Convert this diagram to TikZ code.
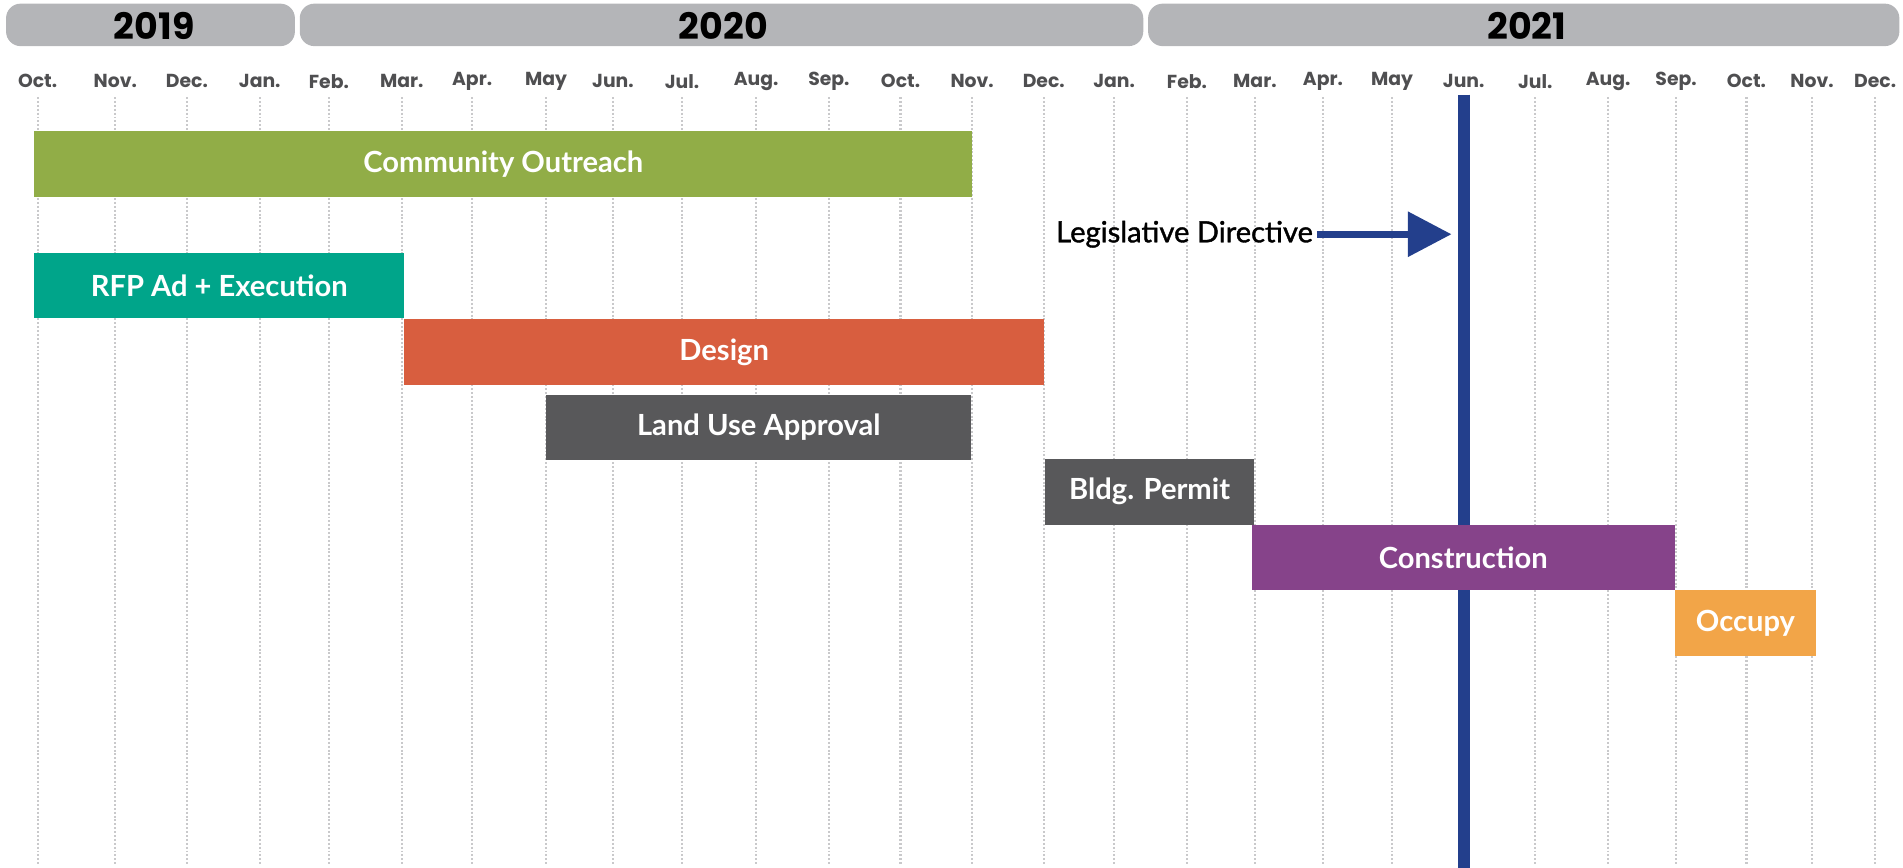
\documentclass[tikz,border=0pt]{standalone}
\usepackage{fontspec}
\setmainfont{Lato}
\newfontfamily\popfont{Poppins}
\newfontfamily\latomed[FakeBold=1.3]{Lato}
\usetikzlibrary{arrows.meta}
\definecolor{pillgray}{HTML}{B4B5B8}
\definecolor{monthgray}{HTML}{4F4F51}
\definecolor{dotgray}{HTML}{C9C9CB}
\definecolor{navy}{HTML}{233F8C}
\definecolor{cgreen}{HTML}{91AD47}
\definecolor{cteal}{HTML}{00A58A}
\definecolor{cred}{HTML}{D85E3F}
\definecolor{cdark}{HTML}{58585A}
\definecolor{cpurple}{HTML}{86438A}
\definecolor{corange}{HTML}{F2A548}
\tikzset{
  pill/.style={fill=pillgray, rounded corners=12pt, draw=none},
  yeartext/.style={font=\popfont\bfseries\fontsize{30}{30}\selectfont, text=black, inner sep=0pt},
  monthtext/.style={font=\popfont\bfseries\fontsize{15.5}{15.5}\selectfont, text=monthgray, inner sep=0pt},
  gridline/.style={draw=dotgray, line width=1.8pt, dash pattern=on 1.6pt off 1.6pt},
  bar/.style={anchor=north west, inner sep=0pt, text=white, font=\bfseries\fontsize{24}{24}\selectfont, minimum height=54pt},
  legtext/.style={font=\latomed\fontsize{24}{24}\selectfont, text=black, inner sep=3pt},
}
\begin{document}
\begin{tikzpicture}[x=1pt,y=-1pt]
\useasboundingbox (0,0) rectangle (1568,715);
% year pills
\fill[pill] (5,3) rectangle (243,38);
\fill[pill] (247,3) rectangle (942,38);
\fill[pill] (946,3) rectangle (1565,38);
\node[yeartext] (y2019) at (127,21) {2019};
\node[yeartext] (y2020) at (596,21) {2020};
\node[yeartext] (y2021) at (1258,21) {2021};
% months and grid lines
\foreach \x/\m [count=\i] in {31/Oct., 95/Nov., 154/Dec., 214/Jan., 271/Feb., 331/Mar., 389/Apr., 450/May, 505/Jun., 562/Jul., 623/Aug., 683/Sep., 742/Oct., 801/Nov., 860/Dec., 918/Jan., 978/Feb., 1034/Mar., 1090/Apr., 1147/May, 1206/Jun., 1265/Jul., 1325/Aug., 1381/Sep., 1439/Oct., 1493/Nov., 1545/Dec.}{
  \node[monthtext] (m\i) at (\x,67) {\m};
  \coordinate (gt\i) at (\x,80);
  \coordinate (gb\i) at (\x,713);
  \draw[gridline] (gt\i) -- (gb\i);
}
% milestone line
\coordinate (jtop) at (1206,78);
\coordinate (jbot) at (1206,715);
\draw[navy, line width=10pt] (jtop) -- (jbot);
% bars
\node[bar, fill=cgreen, minimum width=773pt] (co) at (28,108) {Community Outreach};
\node[bar, fill=cteal, minimum width=305pt] (rfp) at (28,208) {RFP Ad + Execution};
\node[bar, fill=cred, minimum width=527pt] (des) at (333,263) {Design};
\node[bar, fill=cdark, minimum width=350pt] (lua) at (450,325) {Land Use Approval};
\node[bar, fill=cdark, minimum width=172pt] (bp) at (861,378) {Bldg. Permit};
\node[bar, fill=cpurple, minimum width=349pt] (con) at (1031,432) {Construction};
\node[bar, fill=corange, minimum width=116pt] (occ) at (1380,486) {Occupy};
% legislative directive
\node[legtext, anchor=east] (ld) at (1085,193) {Legislative Directive};
\coordinate (tip) at (1196,193);
\draw[navy, line width=6pt, -{Triangle[length=36pt,width=36pt]}] (ld.east) -- (tip);
\end{tikzpicture}
\end{document}
